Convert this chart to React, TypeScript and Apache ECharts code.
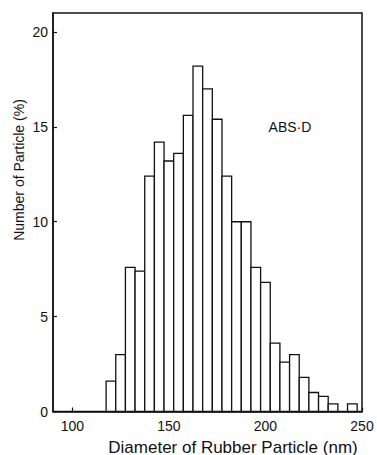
import React, { useEffect, useRef } from "react";
import * as echarts from "echarts";

const binCenters = [120, 125, 130, 135, 140, 145, 150, 155, 160, 165, 170, 175, 180, 185, 190, 195, 200, 205, 210, 215, 220, 225, 230, 235, 240, 245];
const percents = [1.6, 3.0, 7.6, 7.4, 12.4, 14.2, 13.2, 13.6, 15.6, 18.2, 17.0, 15.4, 12.4, 10.0, 10.0, 7.6, 6.8, 3.6, 2.6, 3.0, 1.8, 1.0, 0.8, 0.4, 0, 0.4];
const binWidth = 5;
const xTickValues = [100, 150, 200, 250];
const yTickValues = [0, 5, 10, 15, 20];
const xTitle = "Diameter of Rubber Particle (nm)";
const yTitle = "Number of Particle (%)";
const sampleLabel = "ABS·D";

const INK = "#111";
const FONT = "'Liberation Sans', Arial, sans-serif";

export default function App() {
  const ref = useRef<HTMLDivElement>(null);
  useEffect(() => {
    if (!ref.current) return;
    const chart = echarts.init(ref.current, null, { renderer: "svg" });
    const data = binCenters.map((c, i) => [c, percents[i]]);
    chart.setOption({
      animation: false,
      backgroundColor: "#fff",
      grid: {
        left: 53,
        right: 15,
        top: 13,
        bottom: 43.5,
        show: true,
        borderColor: INK,
        borderWidth: 1.5,
        backgroundColor: "transparent",
      },
      xAxis: {
        type: "value",
        min: 90,
        max: 250,
        axisLine: { show: true, onZero: false, lineStyle: { color: INK, width: 1.5 } },
        axisTick: { show: true, inside: true, length: 4, customValues: xTickValues, lineStyle: { color: INK, width: 1.2 } },
        axisLabel: { customValues: xTickValues, fontSize: 14, color: INK, margin: 7, fontFamily: FONT },
        splitLine: { show: false },
      },
      yAxis: {
        type: "value",
        min: 0,
        max: 21,
        axisLine: { show: true, lineStyle: { color: INK, width: 1.5 } },
        axisTick: { show: true, inside: true, length: 4, customValues: yTickValues, lineStyle: { color: INK, width: 1.2 } },
        axisLabel: { customValues: yTickValues, fontSize: 14, color: INK, margin: 5, fontFamily: FONT },
        splitLine: { show: false },
      },
      graphic: [
        {
          type: "text",
          x: 233,
          y: 447,
          style: { text: xTitle, fill: INK, font: `17px ${FONT}`, textAlign: "center", textVerticalAlign: "middle" },
        },
        {
          type: "text",
          x: 19,
          y: 170,
          rotation: Math.PI / 2,
          style: { text: yTitle, fill: INK, font: `14px ${FONT}`, textAlign: "center", textVerticalAlign: "middle" },
        },
        {
          type: "text",
          x: 290,
          y: 127,
          style: { text: sampleLabel, fill: INK, font: `14px ${FONT}`, textAlign: "center", textVerticalAlign: "middle" },
        },
      ],
      series: [
        {
          type: "custom",
          data,
          renderItem: (params: any, api: any) => {
            const x = api.value(0);
            const y = api.value(1);
            if (!y) return null;
            const p0 = api.coord([x - binWidth / 2, y]);
            const p1 = api.coord([x + binWidth / 2, 0]);
            return {
              type: "rect",
              shape: { x: p0[0], y: p0[1], width: p1[0] - p0[0], height: p1[1] - p0[1] },
              style: { fill: "#fff", stroke: INK, lineWidth: 1.3 },
            };
          },
        },
      ],
    });
    return () => chart.dispose();
  }, []);
  return <div ref={ref} style={{ position: "fixed", left: 0, top: 0, width: 377, height: 455 }} />;
}
